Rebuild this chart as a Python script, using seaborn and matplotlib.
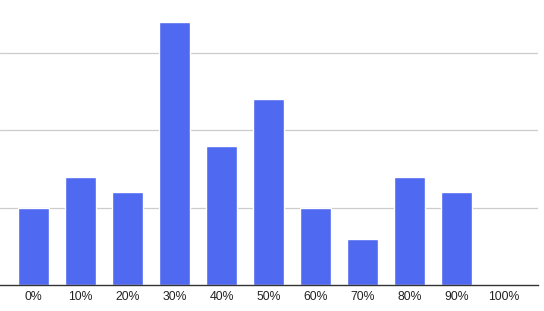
import matplotlib
matplotlib.use("Agg")
import matplotlib.pyplot as plt
import seaborn as sns
import pandas as pd

categories = ["0%", "10%", "20%", "30%", "40%", "50%", "60%", "70%", "80%", "90%", "100%"]
values = [5, 7, 6, 17, 9, 12, 5, 3, 7, 6, 0]

sns.set_theme(style="white")
plt.rcParams['font.family'] = ['Liberation Sans', 'DejaVu Sans']

df = pd.DataFrame({"cat": categories, "val": values})

fig = plt.figure(figsize=(5.44, 3.11), dpi=100)
ax = fig.add_axes([0, 26/311, 538/544, 285/311])
sns.barplot(data=df, x="cat", y="val", color="#5069F1", saturation=1, width=0.66, ax=ax)
ax.set_xlim(-0.71, 10.73)
ax.set_ylim(0, 18.4)
ax.set_yticks([5, 10, 15])
ax.set_yticklabels([])
ax.tick_params(axis='y', length=0)
ax.grid(axis='y', color='#cccccc', linewidth=0.9)
ax.set_axisbelow(True)
for s in ["top", "right", "left"]:
    ax.spines[s].set_visible(False)
ax.spines["bottom"].set_color("#333333")
ax.spines["bottom"].set_linewidth(1)
ax.tick_params(axis='x', length=0, pad=4.5, labelsize=8.8, labelcolor="#222222")
ax.set_xlabel("")
ax.set_ylabel("")
fig.savefig("out.png", dpi=100)
